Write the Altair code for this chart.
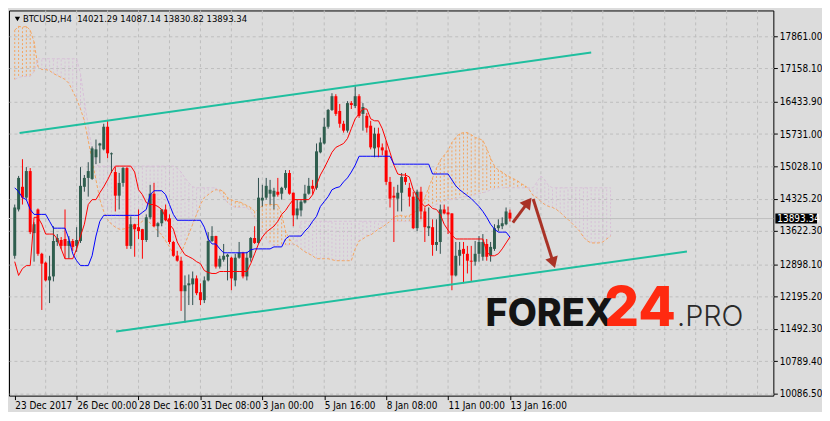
import altair as alt
import pandas as pd

# ---------------- data ----------------
opens = [13084, 14091, 14584, 14348, 14926, 13577, 14091, 13127, 12934, 12549,
         12635, 13384, 13427, 13449, 13299, 13406, 13299, 13406, 14584, 14777,
         14755, 15226, 15483, 15398, 15890, 15291, 14905, 14391, 14669, 14991,
         13299, 13770, 13706, 13663, 13427, 13920, 14434, 13727, 13791, 14091,
         13898, 13384, 13084, 12977, 12313, 12442, 12463, 12592, 12292, 12120,
         12549, 13406, 13513, 12849, 12999, 13063, 13042, 12549, 13042, 13149,
         12635, 13042, 13470, 13363, 14284, 14348, 14434, 14370, 14477, 14434,
         14562, 14884, 14455, 13963, 14070, 14241, 14434, 14605, 14562, 15333,
         15526, 15890, 16255, 16554, 16233, 15955, 15805, 16404, 16340, 16554,
         16169, 16126, 15912, 15419, 15740, 15441, 15376, 14691, 14391, 14327,
         14455, 14798, 14562, 14370, 13684, 14477, 14048, 13684, 13706, 13320,
         13384, 14091, 14027, 14005, 12656, 13084, 13234, 13127, 12977, 12956,
         13127, 13063, 13341, 13084, 13234, 13684, 13727, 13770, 14021.29]
highs = [14198, 14820, 15184, 15012, 14991, 13813, 14113, 13149, 12956, 13084,
         13727, 13556, 13491, 14091, 13513, 13449, 13706, 15012, 14841, 15119,
         15462, 15612, 15540, 15955, 16019, 15330, 15012, 14884, 15012, 15012,
         13941, 13780, 14091, 13670, 13984, 14627, 14669, 13813, 14100, 14198,
         13984, 13406, 13191, 13063, 12656, 12677, 12742, 12656, 12485, 12635,
         13598, 13727, 13520, 13084, 13341, 13127, 13063, 13127, 13384, 13170,
         13170, 13491, 13727, 14777, 14627, 14777, 14734, 14562, 14777, 14584,
         14948, 14948, 14460, 14305, 14305, 14627, 14777, 14734, 15526, 15655,
         16083, 16276, 16619, 16597, 16383, 16019, 16447, 16447, 16769, 16597,
         16404, 16190, 16019, 15869, 15869, 15526, 15591, 14798, 14584, 14627,
         14884, 14884, 14669, 14477, 14520, 14584, 14134, 14134, 13877, 13877,
         14198, 14198, 14155, 14010, 13384, 13384, 13384, 13299, 13299, 13406,
         13513, 13556, 13449, 13384, 13770, 13877, 13920, 14134, 14087.14]
lows = [13020, 14048, 14198, 14305, 13556, 12956, 13084, 11906, 12527, 12056,
        12527, 13299, 13234, 13020, 13020, 13191, 13170, 13363, 14477, 14370,
        14734, 15076, 15098, 15376, 15205, 14884, 14048, 14091, 14584, 13234,
        13234, 13063, 13449, 13020, 13384, 13877, 13706, 13491, 13727, 13834,
        13341, 13063, 12956, 11885, 11628, 12013, 12013, 12228, 12013, 12056,
        12527, 13384, 12806, 12806, 12956, 12549, 12335, 12420, 13020, 12592,
        12549, 12956, 13341, 13341, 14155, 14305, 14198, 14091, 14370, 14305,
        14520, 14412, 13727, 13877, 13941, 14220, 14412, 14412, 14520, 15312,
        15505, 15848, 16233, 16126, 15869, 15762, 15762, 16276, 16297, 16083,
        15805, 15762, 15398, 15226, 15226, 15269, 14627, 14134, 13384, 14048,
        14048, 14627, 14155, 13663, 13620, 13877, 13384, 13513, 13084, 13191,
        13127, 13984, 13556, 12335, 12635, 12870, 12485, 12699, 12527, 12870,
        12956, 12977, 12977, 12956, 13191, 13620, 13663, 13748, 13830.82]
closes = [14134, 14777, 14348, 14926, 13598, 13770, 13127, 12913, 12549, 12635,
          13406, 13470, 13299, 13299, 13406, 13277, 13427, 14605, 14777, 14926,
          15419, 15398, 15526, 15890, 15312, 15312, 14391, 14669, 14991, 13299,
          13770, 13663, 13620, 13427, 13920, 14434, 13727, 13791, 14091, 13856,
          13384, 13084, 12977, 12313, 12442, 12485, 12592, 12270, 12120, 12549,
          13406, 13513, 12849, 13020, 13084, 13106, 12592, 13042, 13149, 12635,
          13042, 13470, 13363, 14348, 14348, 14605, 14520, 14498, 14412, 14562,
          14884, 14434, 13963, 14113, 14262, 14434, 14605, 14541, 15355, 15548,
          15890, 16255, 16554, 16169, 15955, 15805, 16404, 16362, 16554, 16126,
          16319, 15869, 15441, 15740, 15441, 15376, 14691, 14327, 14348, 14455,
          14798, 14691, 14370, 13684, 14477, 14048, 13706, 13727, 13320, 13384,
          14091, 14005, 13984, 12656, 13084, 13213, 13127, 12977, 12956, 13127,
          13384, 13384, 13063, 13277, 13684, 13748, 13791, 14048, 13893.34]

tenkan = [12956, 12656, 12806, 12870, 12870, 13920, 13920, 13770, 13556, 13556,
          13556, 13449, 13234, 13020, 13020, 13020, 13234, 13513, 13770, 14198,
          14305, 14305, 14455, 14584, 14734, 14905, 15034, 15034, 15034, 15034,
          15034, 14905, 14520, 14412, 14241, 14198, 14198, 14155, 14091, 13920,
          13770, 13663, 13384, 13234, 13106, 13063, 13020, 12956, 12913, 12763,
          12720, 12699, 12699, 12742, 12742, 12742, 12742, 12742, 12742, 12742,
          12742, 12913, 13127, 13341, 13491, 13598, 13663, 13727, 13834, 13984,
          14070, 14198, 14305, 14305, 14305, 14305, 14305, 14412, 14627, 14841,
          14991, 15162, 15334, 15441, 15483, 15526, 15633, 15848, 16062, 16169,
          16276, 16276, 16062, 16019, 16019, 15848, 15591, 15334, 15055, 14862,
          14841, 14841, 14798, 14520, 14370, 14241, 14155, 14198, 14112, 14091,
          13984, 13770, 13641, 13534, 13449, 13449, 13449, 13449, 13449, 13449,
          13449, 13449, 13170, 13084, 13084, 13127, 13234, 13363, 13491]
kijun = [14562, 14477, 14348, 14305, 14091, 13984, 13984, 13984, 13984, 13834,
         13684, 13684, 13684, 13684, 13449, 13127, 12977, 12870, 12870, 12870,
         13084, 13513, 13834, 13963, 13963, 13963, 13963, 13963, 13963, 13963,
         13963, 13963, 13963, 14027, 14091, 14412, 14498, 14498, 14498, 14412,
         14198, 13984, 13856, 13856, 13856, 13856, 13856, 13856, 13856, 13706,
         13449, 13341, 13341, 13234, 13149, 13149, 13149, 13149, 13149, 13149,
         13149, 13213, 13234, 13234, 13234, 13234, 13234, 13277, 13277, 13277,
         13449, 13513, 13513, 13513, 13513, 13620, 13706, 13834, 13941, 14155,
         14262, 14370, 14520, 14562, 14584, 14691, 14777, 14905, 15055, 15248,
         15248, 15248, 15248, 15248, 15248, 15248, 15248, 15248, 15076, 15076,
         15076, 15076, 15076, 15076, 15076, 15076, 15076, 15076, 14862, 14862,
         14862, 14862, 14862, 14734, 14605, 14520, 14455, 14391, 14327, 14241,
         14155, 14048, 13920, 13770, 13663, 13598, 13598, 13598, 13491]
span_a = [17990, 18075, 18054, 18075, 17990, 17732, 17197, 17133, 17133, 17111,
          17047, 17004, 16961, 16919, 16833, 16662, 16490, 16276, 16019, 15591,
          15162, 14734, 14305, 14048, 13877, 13770, 13706, 13663, 13663, 13684,
          13706, 13748, 13770, 13834, 13877, 13791, 13706, 13620, 13534, 13406,
          13277, 13127, 13063, 13149, 13341, 13556, 13770, 13984, 14198, 14348,
          14412, 14477, 14520, 14520, 14477, 14348, 14305, 14262, 14262, 14220,
          14177, 14134, 14048, 14091, 14177, 14198, 14198, 14198, 14198, 13984,
          13620, 13449, 13341, 13299, 13234, 13170, 13127, 13084, 13020, 13020,
          13020, 13020, 12999, 12977, 12977, 12977, 12977, 12977, 13234, 13406,
          13449, 13513, 13534, 13598, 13663, 13706, 13770, 13834, 13920, 13963,
          13963, 13941, 13963, 14005, 14091, 14198, 14348, 14562, 14777, 14991,
          15162, 15269, 15376, 15548, 15655, 15740, 15762, 15762, 15719, 15655,
          15633, 15591, 15419, 15205, 15034, 14948, 14905, 14841, 14798, 14755,
          14712, 14648, 14605, 14520, 14391, 14348, 14262, 14198, 14155, 14134,
          14091, 14027, 13941, 13877, 13791, 13706, 13620, 13491, 13406, 13363,
          13363, 13363, 13384, 13449, 13513]
span_b = [16919, 16961, 16983, 16983, 16983, 17090, 17368, 17368, 17368, 17368,
          17368, 17368, 17368, 17368, 17368, 17368, 17368, 17047, 16447, 15912,
          15376, 15055, 15034, 15034, 15034, 15034, 15034, 15034, 15034, 15034,
          15034, 15034, 15034, 15034, 15034, 15034, 15034, 15034, 15034, 15034,
          15034, 15034, 14991, 14905, 14777, 14669, 14584, 14562, 14562, 14562,
          14562, 14562, 14562, 14455, 14348, 14241, 14177, 14134, 14134, 14134,
          14134, 14048, 13920, 13770, 13620, 13449, 13341, 13299, 13299, 13320,
          13320, 13320, 13341, 13449, 13834, 13834, 13834, 13834, 13834, 13834,
          13834, 13834, 13834, 13834, 13834, 13834, 13834, 13834, 13834, 13834,
          13834, 13834, 13834, 13834, 13834, 13834, 13834, 13834, 13834, 13834,
          13834, 13834, 13834, 13834, 13834, 13834, 13984, 14091, 14155, 14198,
          14241, 14262, 14305, 14305, 14327, 14348, 14370, 14370, 14391, 14412,
          14434, 14455, 14477, 14520, 14541, 14562, 14562, 14562, 14562, 14562,
          14562, 14562, 14562, 14562, 14562, 14691, 14819, 14734, 14605, 14562,
          14562, 14562, 14562, 14562, 14562, 14562, 14562, 14562, 14562, 14562,
          14562, 14562, 14562, 14562, 14562]

price_ticks = [17861.00, 17158.10, 16433.90, 15731.00, 15028.10, 14325.20,
               13622.30, 12898.10, 12195.20, 11492.30, 10789.40, 10086.50]
date_pos = [0, 16, 32, 48, 64, 80, 96, 112, 128]
date_labels = ["23 Dec 2017", "26 Dec 00:00", "28 Dec 16:00", "31 Dec 08:00",
               "3 Jan 00:00", "5 Jan 16:00", "8 Jan 08:00", "11 Jan 00:00",
               "13 Jan 16:00"]
grid_k = [8, 16, 24, 32, 40, 48, 56, 64, 72, 80, 88, 96, 104, 112, 120, 128,
          136, 144, 152, 160, 168, 176, 184, 192]

# channel lines (bar index, price)
chan_id = ["upper", "upper", "lower", "lower"]
chan_k = [1.25, 149.0, 26.2, 173.75]
chan_p = [15755, 17503, 11439, 13176]

# arrows: shaft start -> shaft end, head centre and head angle
arrow_k0 = [128.75, 134.0]
arrow_p0 = [13806, 14320]
arrow_k1 = [132.3, 139.0]
arrow_p1 = [14205, 12984]
head_k = [132.7, 139.2]
head_p = [14248, 12932]
head_ang = [37, 162]

# watermark
wm_k = [121.7, 152.4, 171.2]
wm_p = [11563, 11563, 11563]

# ---------------- frames ----------------
n = len(opens)
bars = pd.DataFrame({"k": list(range(n)), "o": opens, "h": highs,
                     "l": lows, "c": closes, "t": tenkan, "kj": kijun})
cloud = pd.DataFrame({"k": list(range(len(span_a))), "a": span_a, "b": span_b})
chan = pd.DataFrame({"id": chan_id, "k": chan_k, "p": chan_p})
arrows = pd.DataFrame({"k0": arrow_k0, "p0": arrow_p0, "k1": arrow_k1, "p1": arrow_p1})
heads = pd.DataFrame({"k": head_k, "p": head_p, "ang": head_ang})
last = pd.DataFrame({"p": [closes[-1]], "txt": [f"{closes[-1]:.2f}"]})

W, H = 770, 388
FONT = "Liberation Sans Narrow, DejaVu Sans Condensed, Liberation Sans"
GRID = "#BDBDBD"
xs = alt.Scale(domain=[-0.2, 194.8], nice=False, zero=False)
ys = alt.Scale(domain=[10043, 18418], nice=False, zero=False)

lab_expr = ("[" + ",".join(f"'{s}'" for s in date_labels) + "][indexof(["
            + ",".join(str(v) for v in date_pos) + "], datum.value)]")
xaxis = alt.Axis(values=date_pos, labelExpr=lab_expr, title=None, grid=False,
                 domain=False, ticks=True, tickSize=4, tickColor="black",
                 labelAlign="left", labelBaseline="top", labelPadding=1,
                 labelFont=FONT, labelFontSize=10, labelColor="black",
                 labelOverlap=False, labelFlush=False, labelBound=False)
yaxis = alt.Axis(values=price_ticks, format=".2f", orient="right", title=None,
                 grid=True, gridColor=GRID, gridDash=[3, 3], domain=False,
                 ticks=True, tickSize=4, tickColor="black", labelPadding=2,
                 labelFont=FONT, labelFontSize=10, labelColor="black",
                 labelOverlap=False, labelFlush=False, labelBound=False)


def X(f):
    return alt.X(f, type="quantitative", scale=xs, axis=xaxis)


def Y(f):
    return alt.Y(f, type="quantitative", scale=ys, axis=yaxis)


vgrid = alt.Chart(pd.DataFrame({"k": grid_k})).mark_rule(
    color=GRID, strokeDash=[3, 3], strokeWidth=1).encode(x=X("k"))

hatch = alt.Chart(cloud).mark_rule(strokeDash=[2, 2], strokeWidth=1).encode(
    x=X("k"), y=Y("a"), y2="b",
    color=alt.condition("datum.a >= datum.b", alt.value("#F4A460"), alt.value("#D8BFD8")))
line_a = alt.Chart(cloud).mark_line(color="#F4A460", strokeWidth=1, strokeDash=[3, 2]).encode(
    x=X("k"), y=Y("a"))
line_b = alt.Chart(cloud).mark_line(color="#D8BFD8", strokeWidth=1, strokeDash=[3, 2]).encode(
    x=X("k"), y=Y("b"))

pline = alt.Chart(last).mark_rule(color="#BEBEBE", strokeWidth=1).encode(y=Y("p"))

wicks = alt.Chart(bars).mark_rule(strokeWidth=1).encode(
    x=X("k"), y=Y("l"), y2="h",
    color=alt.condition("datum.c >= datum.o", alt.value("#2F4F4F"), alt.value("#FF0000")))
bodies = alt.Chart(bars).mark_bar(size=3).encode(
    x=X("k"), y=Y("o"), y2="c",
    color=alt.condition("datum.c >= datum.o", alt.value("#2F5E4E"), alt.value("#FF0000")))

tk = alt.Chart(bars).mark_line(color="#FF0000", strokeWidth=1).encode(x=X("k"), y=Y("t"))
kj = alt.Chart(bars).mark_line(color="#0000FF", strokeWidth=1).encode(x=X("k"), y=Y("kj"))

chan_lines = alt.Chart(chan).mark_line(color="#1FBF9F", strokeWidth=2).encode(
    x=X("k"), y=Y("p"), detail="id:N")

shafts = alt.Chart(arrows).mark_rule(color="#A93226", strokeWidth=3).encode(
    x=X("k0"), y=Y("p0"), x2="k1", y2="p1")
heads_m = alt.Chart(heads).mark_point(shape="triangle-up", filled=True, size=170,
                                      color="#A93226", opacity=1).encode(
    x=X("k"), y=Y("p"), angle=alt.Angle("ang:Q", scale=None))

wm1 = alt.Chart(pd.DataFrame({"k": [wm_k[0]], "p": [wm_p[0]], "s": ["FOREX"]})).mark_text(
    align="left", baseline="alphabetic", font="Inter", fontWeight=800, fontSize=38,
    color="#141414").encode(x=X("k"), y=Y("p"), text="s:N")
wm2 = alt.Chart(pd.DataFrame({"k": [wm_k[1]], "p": [wm_p[1]], "s": ["24"]})).mark_text(
    align="left", baseline="alphabetic", font="Inter", fontWeight=800, fontSize=55,
    color="#FF2A10").encode(x=X("k"), y=Y("p"), text="s:N")
wm3 = alt.Chart(pd.DataFrame({"k": [wm_k[2]], "p": [wm_p[2]], "s": [".PRO"]})).mark_text(
    align="left", baseline="alphabetic", font="Inter", fontWeight=300, fontSize=29,
    color="#2A2A2A").encode(x=X("k"), y=Y("p"), text="s:N")

title_txt = (f"BTCUSD,H4\u00a0 {opens[-1]:.2f} {highs[-1]:.2f} "
             f"{lows[-1]:.2f} {closes[-1]:.2f}")
title = alt.Chart(pd.DataFrame({"s": [title_txt]})).mark_text(
    align="left", baseline="alphabetic", font=FONT, fontSize=9.5, color="black").encode(
    x=alt.value(14), y=alt.value(12), text="s:N")
tri = alt.Chart(pd.DataFrame({"s": ["v"]})).mark_point(
    shape="triangle-down", filled=True, size=28, color="black", opacity=1).encode(
    x=alt.value(8.5), y=alt.value(8.5))

pbox = alt.Chart(last).mark_rect(color="black", yOffset=-5, y2Offset=5).encode(
    x=alt.value(W + 2), x2=alt.value(W + 44), y=Y("p"), y2="p")
ptext = alt.Chart(last).mark_text(align="left", baseline="middle", font=FONT,
                                  fontSize=10, color="white").encode(
    x=alt.value(W + 4), y=Y("p"), text="txt:N")

chart = alt.layer(
    vgrid, hatch, line_a, line_b, pline, wicks, bodies, tk, kj, chan_lines,
    shafts, heads_m, wm1, wm2, wm3, title, tri, pbox, ptext
).properties(
    width=W, height=H, padding=0, background="#DCDCDC"
).configure_view(
    fill="#DCDCDC", stroke="black", strokeWidth=1
)

chart.save("out.html", embed_options={"renderer": "svg", "actions": False})
